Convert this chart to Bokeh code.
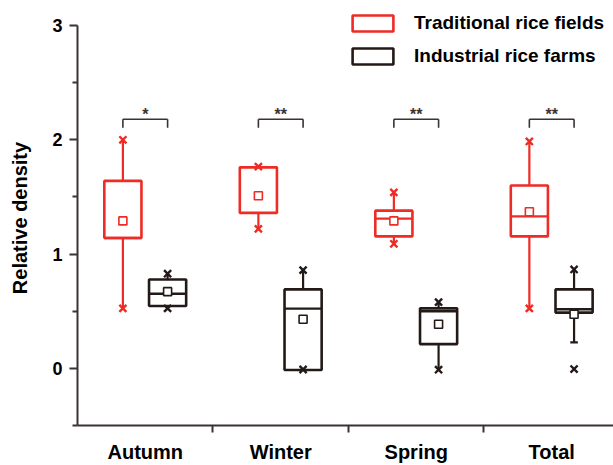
from bokeh.plotting import figure
from bokeh.models import (ColumnDataSource, FixedTicker, Legend, LegendItem, LinearAxis, Range1d)
from bokeh.core.properties import value
from bokeh.embed import file_html
from bokeh.resources import INLINE

categories = ["Autumn", "Winter", "Spring", "Total"]

# Traditional rice fields
trad_q1 = [1.14, 1.36, 1.155, 1.155]
trad_q3 = [1.64, 1.76, 1.38, 1.60]
trad_med = [1.14, 1.76, 1.31, 1.33]
trad_mean = [1.29, 1.51, 1.29, 1.37]
trad_wlo = [0.525, 1.22, 1.09, 0.525]
trad_whi = [2.00, 1.765, 1.54, 1.985]
trad_min = [0.525, 1.22, 1.09, 0.525]
trad_max = [2.00, 1.765, 1.54, 1.985]

# Industrial rice farms
ind_q1 = [0.546, -0.015, 0.212, 0.488]
ind_q3 = [0.778, 0.691, 0.525, 0.691]
ind_med = [0.653, 0.523, 0.50, 0.517]
ind_mean = [0.671, 0.43, 0.386, 0.473]
ind_wlo = [0.525, -0.01, -0.012, 0.227]
ind_whi = [0.828, 0.859, 0.58, 0.865]
ind_min = [0.525, -0.01, -0.012, -0.006]
ind_max = [0.828, 0.859, 0.58, 0.865]
ind_cap = [None, None, None, 0.227]

significance = ["*", "**", "**", "**"]
sig_level = 2.18

RED = "#ee2b24"
BLK = "#231a18"
AXC = "#3b3232"
FONT = "Liberation Sans"

p = figure(width=613, height=465, output_backend="svg", toolbar_location=None,
           x_range=Range1d(0, 3.956), y_range=Range1d(-0.5, 3.131),
           min_border_left=77, min_border_right=0, min_border_top=10, min_border_bottom=38,
           x_axis_type=None, y_axis_type=None)
p.outline_line_color = None
p.xgrid.visible = False
p.ygrid.visible = False
p.background_fill_color = "white"

off = 0.165
hw = 0.137

def draw(q1, q3, med, mean, wlo, whi, mn, mx, sign, color):
    xs = [i + 0.5 + sign * off for i in range(len(categories))]
    src = ColumnDataSource(dict(x=xs, left=[x - hw for x in xs], right=[x + hw for x in xs],
                                q1=q1, q3=q3, med=med, mean=mean, wlo=wlo, whi=whi, mn=mn, mx=mx))
    p.segment(x0="x", x1="x", y0="q3", y1="whi", source=src, line_color=color, line_width=2.2)
    p.segment(x0="x", x1="x", y0="wlo", y1="q1", source=src, line_color=color, line_width=2.2)
    r = p.quad(left="left", right="right", bottom="q1", top="q3", source=src,
               fill_color="white", fill_alpha=0, line_color=color, line_width=2.6)
    p.segment(x0="left", x1="right", y0="med", y1="med", source=src, line_color=color, line_width=2.4)
    p.scatter(x="x", y="mean", source=src, marker="square", size=8, fill_color="white",
              line_color=color, line_width=1.6)
    p.scatter(x="x", y="mn", source=src, marker="x", size=10, line_color=color, line_width=2.4)
    p.scatter(x="x", y="mx", source=src, marker="x", size=10, line_color=color, line_width=2.4)
    return r, xs

r_red, xs_red = draw(trad_q1, trad_q3, trad_med, trad_mean, trad_wlo, trad_whi, trad_min, trad_max, -1, RED)
r_blk, xs_blk = draw(ind_q1, ind_q3, ind_med, ind_mean, ind_wlo, ind_whi, ind_min, ind_max, 1, BLK)

# whisker cap
cap_x = [x for x, c in zip(xs_blk, ind_cap) if c is not None]
cap_y = [c for c in ind_cap if c is not None]
p.segment(x0=[x - 0.028 for x in cap_x], x1=[x + 0.028 for x in cap_x], y0=cap_y, y1=cap_y,
          line_color=BLK, line_width=2.2)

# significance brackets
leg = 0.075
bx0 = xs_red
bx1 = xs_blk
p.segment(x0=bx0, x1=bx1, y0=[sig_level] * 4, y1=[sig_level] * 4, line_color=AXC, line_width=1.6)
p.segment(x0=bx0, x1=bx0, y0=[sig_level] * 4, y1=[sig_level - leg] * 4, line_color=AXC, line_width=1.6)
p.segment(x0=bx1, x1=bx1, y0=[sig_level] * 4, y1=[sig_level - leg] * 4, line_color=AXC, line_width=1.6)
p.text(x=[(a + b) / 2 for a, b in zip(bx0, bx1)], y=[sig_level - 0.03] * 4, text=significance,
       text_align="center", text_baseline="bottom", text_font=value(FONT),
       text_font_size="16px", text_font_style="bold", text_color=AXC)

# axes
yax = LinearAxis(ticker=FixedTicker(ticks=[0, 1, 2, 3], minor_ticks=[-0.5, 0.5, 1.5, 2.5]),
                 bounds=(-0.5, 3), axis_label="Relative density")
yax.axis_line_color = AXC
yax.axis_line_width = 2
yax.major_tick_line_color = AXC
yax.major_tick_line_width = 2
yax.major_tick_out = 8
yax.major_tick_in = 0
yax.minor_tick_line_color = AXC
yax.minor_tick_line_width = 2
yax.minor_tick_out = 5
yax.minor_tick_in = 0
yax.major_label_text_font = FONT
yax.major_label_text_font_style = "bold"
yax.major_label_text_font_size = "18px"
yax.major_label_text_color = "black"
yax.major_label_standoff = 7
yax.axis_label_text_font = FONT
yax.axis_label_text_font_style = "bold"
yax.axis_label_text_font_size = "20px"
yax.axis_label_text_color = "black"
yax.axis_label_standoff = 18
p.add_layout(yax, "left")

xax = LinearAxis(ticker=FixedTicker(ticks=[0.5, 1.5, 2.5, 3.5], minor_ticks=[1, 2, 3]))
xax.major_label_overrides = {i + 0.5: c for i, c in enumerate(categories)}
xax.axis_line_color = AXC
xax.axis_line_width = 2
xax.major_tick_line_color = None
xax.major_tick_out = 0
xax.major_tick_in = 0
xax.minor_tick_line_color = AXC
xax.minor_tick_line_width = 2
xax.minor_tick_out = 7
xax.minor_tick_in = 0
xax.major_label_text_font = FONT
xax.major_label_text_font_style = "bold"
xax.major_label_text_font_size = "20px"
xax.major_label_text_color = "black"
xax.major_label_standoff = 8
p.add_layout(xax, "below")

legend = Legend(items=[LegendItem(label="Traditional rice fields", renderers=[r_red]),
                       LegendItem(label="Industrial rice farms", renderers=[r_blk])],
                location=(270, 358))
legend.glyph_width = 51
legend.glyph_height = 20
legend.label_height = 20
legend.spacing = 11
legend.padding = 4
legend.margin = 0
legend.label_standoff = 16
legend.border_line_color = None
legend.background_fill_alpha = 0
legend.label_text_font = FONT
legend.label_text_font_style = "bold"
legend.label_text_font_size = "19px"
legend.label_text_color = "black"
p.add_layout(legend, "center")

open("out.html", "w").write(file_html(p, INLINE))
